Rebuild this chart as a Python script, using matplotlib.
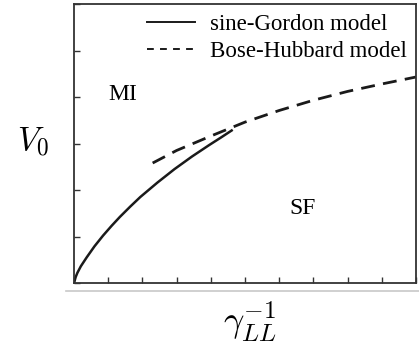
import numpy as np
import matplotlib.pyplot as plt
from matplotlib.lines import Line2D

plt.rcParams['mathtext.fontset'] = 'cm'

# sine-Gordon boundary (solid)
sg_x = [0.0, 0.05, 0.1, 0.2, 0.37, 0.6, 0.85, 1.1, 1.34, 1.64, 1.94,
        2.44, 2.94, 3.45, 3.96, 4.3, 4.61]
sg_y = [0.0, 0.13, 0.22, 0.36, 0.55, 0.79, 1.02, 1.23, 1.42, 1.64, 1.85,
        2.16, 2.45, 2.72, 2.97, 3.13, 3.28]

# Bose-Hubbard boundary (dashed)
bh_x = [2.3, 3.0, 4.0, 5.0, 6.0, 7.0, 8.0, 9.0, 10.0]
bh_y = [2.58, 2.85, 3.16, 3.46, 3.71, 3.93, 4.12, 4.28, 4.43]

fig = plt.figure(figsize=(4.19, 3.45), dpi=100)
ax = fig.add_axes([0.1766, 0.1797, 0.8162, 0.8087])

ax.plot(sg_x, sg_y, color='#1a1a1a', lw=1.8)
ax.plot(bh_x, bh_y, color='#1a1a1a', lw=2.0, dashes=(5, 3))

ax.set_xlim(0, 10)
ax.set_ylim(0, 6)
ax.set_xticks(np.arange(0, 11, 1))
ax.set_yticks(np.arange(0, 7, 1))
ax.tick_params(direction='in', length=4, width=1, color='#333333',
               labelbottom=False, labelleft=False)
for s in ax.spines.values():
    s.set_color('#333333')
    s.set_linewidth(1.3)

handles = [Line2D([], [], color='#1a1a1a', lw=1.4),
           Line2D([], [], color='#1a1a1a', lw=1.4, dashes=(3.5, 3.2))]
leg = ax.legend(handles, ['sine-Gordon model', 'Bose-Hubbard model'],
                loc='upper right', frameon=False, handlelength=2.1,
                prop={'family': 'Liberation Serif', 'size': 16.5},
                borderaxespad=0.0, labelspacing=0.25, handletextpad=0.65,
                bbox_to_anchor=(1.0, 0.997))

ax.text(1.42, 4.05, 'MI', family='Liberation Serif', fontsize=17,
        ha='center', va='center')
ax.text(6.68, 1.6, 'SF', family='Liberation Serif', fontsize=17,
        ha='center', va='center')

fig.text(0.078, 0.59, r'$V_0$', fontsize=24, ha='center', va='center')
fig.text(0.597, 0.068, r'$\gamma_{LL}^{-1}$', fontsize=26, ha='center', va='center')

fig.add_artist(Line2D([0.158, 1.0], [0.157, 0.157], transform=fig.transFigure,
                      color='#c8c8c8', lw=1.2))

fig.savefig('out.png', dpi=100)
